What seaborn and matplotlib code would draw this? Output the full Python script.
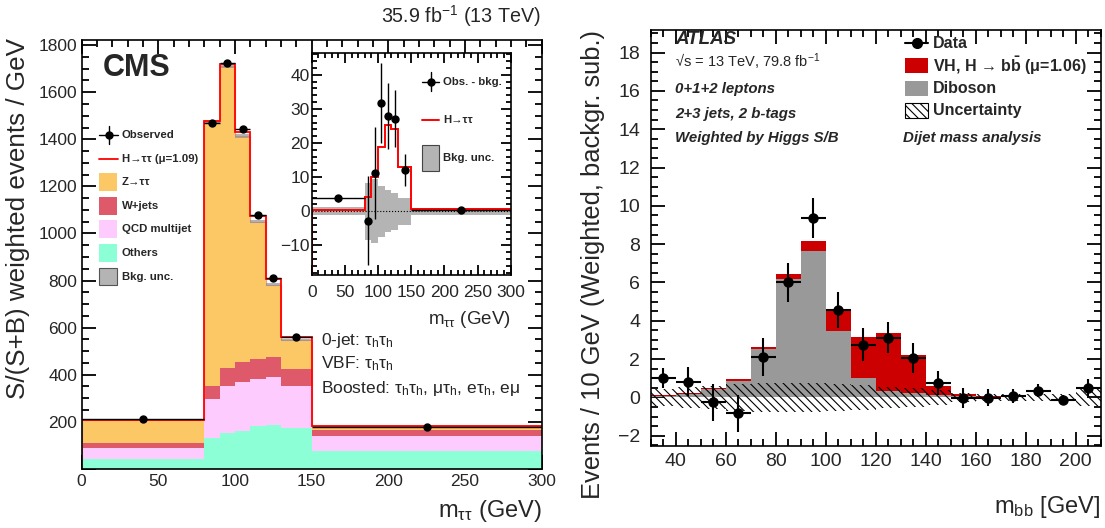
import numpy as np
import pandas as pd
import matplotlib
matplotlib.use("Agg")
import matplotlib.pyplot as plt
import seaborn as sns
from matplotlib.patches import Rectangle
from matplotlib.lines import Line2D
from matplotlib.ticker import MultipleLocator, FuncFormatter

# ---------------- CMS H->tautau (left panel) ----------------
cms_edges = [0, 80, 90, 100, 110, 120, 130, 150, 300]
cms_others = [40, 130, 151, 162, 182, 188, 173, 77]
cms_qcd = [50, 167, 201, 208, 201, 202, 178, 62]
cms_wjets = [18, 55, 75, 82, 83, 86, 72, 26]
cms_ztt = [98, 1121, 1285, 961, 584, 306, 126, 15]
cms_signal = [0.5, 4.3, 10.1, 18.7, 25.3, 24.2, 13.1, 0.7]
cms_bkg_unc = [1.2, 8.3, 9.3, 7.5, 6.2, 5.4, 3.9, 1.0]
cms_observed = [210, 1470, 1723, 1445, 1078, 809, 561, 179]
cms_obs_minus_bkg = [3.8, -2.8, 11.1, 31.8, 27.9, 27.1, 12.1, 0.3]
cms_obs_err = [1.0, 13.0, 13.5, 11.8, 9.7, 8.3, 4.8, 0.7]

# ---------------- ATLAS VH, H->bb (right panel) ----------------
atlas_edges = [30, 40, 50, 60, 70, 80, 90, 100, 110, 120, 130, 140, 150,
               160, 170, 180, 190, 200, 210]
atlas_diboson = [0.05, 0.2, 0.45, 0.87, 2.5, 6.18, 7.66, 3.48, 0.99, 0.34,
                 0.24, 0.12, 0.08, 0.04, 0.03, 0.02, 0.02, 0.02]
atlas_vh = [0.07, 0.04, 0.05, 0.07, 0.14, 0.26, 0.52, 1.11, 2.14, 3.03,
            1.97, 0.48, 0.08, 0.03, 0.02, 0.01, 0.01, 0.01]
atlas_data = [1.02, 0.82, -0.26, -0.84, 2.12, 6.0, 9.38, 4.56, 2.75, 3.11,
              2.05, 0.73, -0.05, -0.02, 0.07, 0.35, -0.14, 0.5]
atlas_data_err = [0.52, 0.77, 0.95, 0.98, 0.99, 1.03, 1.05, 0.94, 0.87, 0.81,
                  0.77, 0.63, 0.52, 0.44, 0.37, 0.34, 0.26, 0.45]
atlas_unc = [0.45, 0.55, 0.6, 0.7, 0.75, 0.75, 0.75, 0.72, 0.65, 0.55,
             0.5, 0.38, 0.25, 0.2, 0.18, 0.17, 0.15, 0.45]

sns.set_theme(style="ticks")
plt.rcParams.update({
    "font.family": ["Liberation Sans", "DejaVu Sans"],
    "mathtext.fontset": "custom",
    "mathtext.rm": "Liberation Sans",
    "mathtext.it": "Liberation Sans:italic",
    "mathtext.bf": "Liberation Sans:bold",
    "hatch.linewidth": 0.8,
    "axes.linewidth": 1.2,
    "axes.edgecolor": "black",
    "xtick.direction": "in", "ytick.direction": "in",
    "xtick.top": True, "ytick.right": True,
})

W, H = 1105, 528
fig = plt.figure(figsize=(W / 100, H / 100), dpi=100)


def box(x0, y0, x1, y1):
    return [x0 / W, 1 - y1 / H, (x1 - x0) / W, (y1 - y0) / H]


def ftext(x, y, s, **kw):
    return fig.text(x / W, 1 - y / H, s, **kw)


def fline(xs, ys, **kw):
    fig.add_artist(Line2D([x / W for x in xs], [1 - y / H for y in ys],
                          transform=fig.transFigure, **kw))


def fpatch(x, yc, w, h, **kw):
    fig.add_artist(Rectangle((x / W, 1 - (yc + h / 2) / H), w / W, h / H,
                             transform=fig.transFigure, **kw))


def root_ticks(ax, size, pad, major=10, minor=5):
    ax.tick_params(which="both", direction="in", top=True, right=True,
                   labelsize=size, pad=pad)
    ax.tick_params(which="major", length=major, width=1.3, color="black")
    ax.tick_params(which="minor", length=minor, width=1.3, color="black")


ax1 = fig.add_axes(box(81.5, 40, 541.7, 468.8))
ax_in = fig.add_axes(box(311.7, 53.3, 510.7, 275))
ax2 = fig.add_axes(box(650.7, 30, 1100.7, 446))

# ---- left: stacked backgrounds
edges = np.array(cms_edges, dtype=float)
centers = (edges[:-1] + edges[1:]) / 2
halfw = np.diff(edges) / 2
procs = {"Z→ττ": cms_ztt, "W+jets": cms_wjets,
         "QCD multijet": cms_qcd, "Others": cms_others}
cms_colors = {"Z→ττ": "#fcc865", "W+jets": "#de5a6a",
              "QCD multijet": "#fdcbfd", "Others": "#8cffd6"}
cms_df = pd.DataFrame([{"m": c, "w": v, "proc": name}
                       for name, vals in procs.items()
                       for c, v in zip(centers, vals)])
sns.histplot(data=cms_df, x="m", weights="w", hue="proc", hue_order=list(procs),
             bins=cms_edges, multiple="stack", element="step", palette=cms_colors,
             alpha=1, linewidth=0, legend=False, ax=ax1)
bkg = np.sum([cms_ztt, cms_wjets, cms_qcd, cms_others], axis=0)
unc = np.array(cms_bkg_unc)
ax1.stairs(bkg, edges, baseline=0, color="#f2a08c", lw=0.8)
ax1.bar(edges[:-1], 2 * unc, bottom=bkg - unc, width=np.diff(edges), align="edge",
        color="#8a8a8a", alpha=0.65, lw=0)
ax1.stairs(bkg + np.array(cms_signal), edges, baseline=None, color="#ff0000", lw=1.3)
ax1.errorbar(centers, cms_observed, xerr=halfw, yerr=cms_obs_err, fmt="o",
             color="black", ms=5, lw=1.0, capsize=0, zorder=5)
ax1.set_xlim(0, 300)
ax1.set_ylim(0, 1822)
ax1.xaxis.set_major_locator(MultipleLocator(50))
ax1.xaxis.set_minor_locator(MultipleLocator(10))
ax1.yaxis.set_major_locator(MultipleLocator(200))
ax1.yaxis.set_minor_locator(MultipleLocator(50))
ax1.yaxis.set_major_formatter(FuncFormatter(lambda v, p: "" if v == 0 else f"{v:g}"))
root_ticks(ax1, 12.5, 3)
ax1.tick_params(axis="x", pad=4)
ax1.set_xlabel("")
ax1.set_ylabel("")

# CMS legend (drawn row by row)
leg_font = {"fontsize": 8.2, "fontweight": "bold", "va": "center"}
rows = ["Observed", "H→ττ (μ=1.09)", "Z→ττ", "W+jets", "QCD multijet", "Others",
        "Bkg. unc."]
for i, lab in enumerate(rows):
    y = 135 + i * 23.6
    ftext(121.7, y, lab, **leg_font)
    if lab == "Observed":
        fline([99.3, 118.3], [y, y], color="black", lw=1.0)
        fline([108.8, 108.8], [y - 9, y + 9], color="black", lw=1.0)
        fline([108.8], [y], color="black", marker="o", ms=5, lw=0)
    elif lab.startswith("H"):
        fline([99.3, 118.3], [y, y], color="#ff0000", lw=1.3)
    elif lab == "Bkg. unc.":
        fpatch(99.3, y, 18, 17, facecolor="#b4b4b4", edgecolor="#555555", lw=0.8)
    else:
        fpatch(99.3, y, 18, 18, facecolor=cms_colors[lab], lw=0)

ftext(103, 68, "CMS", fontsize=22, fontweight="bold", va="center", ha="left")
ftext(541, 16, r"35.9 fb$^{-1}$ (13 TeV)", fontsize=14.2, ha="right", va="center")
ftext(320.7, 340, r"0-jet: τ$_\mathrm{h}$τ$_\mathrm{h}$", fontsize=12.5, va="center")
ftext(320.7, 364, r"VBF: τ$_\mathrm{h}$τ$_\mathrm{h}$", fontsize=12.5, va="center")
ftext(320.7, 388, r"Boosted: τ$_\mathrm{h}$τ$_\mathrm{h}$, μτ$_\mathrm{h}$, eτ$_\mathrm{h}$, eμ",
      fontsize=12.5, va="center")
ftext(541.7, 511, r"m$_{\mathrm{ττ}}$ (GeV)", fontsize=17, ha="right", va="center")
ftext(18, 38, "S/(S+B) weighted events / GeV", fontsize=18.7, rotation=90,
      ha="center", va="top")

# ---- inset: observed minus background
ax_in.set_facecolor("white")
ax_in.bar(edges[:-1], 2 * unc, bottom=-unc, width=np.diff(edges), align="edge",
          color="#b4b4b4", lw=0)
ax_in.axhline(0, color="black", ls=":", lw=0.8)
ymin_in, ymax_in = -18.7, 46.3
ax_in.stairs(cms_signal, edges, baseline=None, color="#ff0000", lw=1.4)
ax_in.plot([edges[0], edges[0]], [ymin_in, cms_signal[0]], color="#ff0000", lw=1.4)
in_xerr = np.where(np.diff(edges) > 20, halfw, 0)
ax_in.errorbar(centers, cms_obs_minus_bkg, xerr=in_xerr, yerr=cms_obs_err,
               fmt="o", color="black", ms=5, lw=1.0, capsize=0, zorder=5)
ax_in.set_xlim(0, 300)
ax_in.set_ylim(ymin_in, ymax_in)
ax_in.xaxis.set_major_locator(MultipleLocator(50))
ax_in.xaxis.set_minor_locator(MultipleLocator(10))
ax_in.yaxis.set_major_locator(MultipleLocator(10))
ax_in.yaxis.set_minor_locator(MultipleLocator(2))
root_ticks(ax_in, 12.5, 1.5, major=7, minor=3.5)
ax_in.tick_params(axis="x", pad=7)

for i, lab in enumerate(["Obs. - bkg.", "H→ττ", "Bkg. unc."]):
    y = 81.7 + i * 38.3
    ftext(443.3, y, lab, **leg_font)
    if i == 0:
        fline([421.7, 439.3], [y, y], color="black", lw=1.0)
        fline([430.5, 430.5], [y - 9.5, y + 9.5], color="black", lw=1.0)
        fline([430.5], [y], color="black", marker="o", ms=5, lw=0)
    elif i == 1:
        fline([421.7, 439.3], [y, y], color="#ff0000", lw=1.4)
    else:
        fpatch(421.7, y, 17.7, 26, facecolor="#b4b4b4", edgecolor="#444444", lw=0.8)
ftext(510.7, 320, r"m$_{\mathrm{ττ}}$ (GeV)", fontsize=13.5, ha="right", va="center")

# ---- right: ATLAS background-subtracted mbb
aedges = np.array(atlas_edges, dtype=float)
acenters = (aedges[:-1] + aedges[1:]) / 2
atlas_df = pd.DataFrame({"m": np.concatenate([acenters, acenters]),
                         "w": np.concatenate([atlas_vh, atlas_diboson]),
                         "proc": ["VH"] * len(acenters) + ["Diboson"] * len(acenters)})
atlas_colors = {"VH": "#cc0000", "Diboson": "#999999"}
sns.histplot(data=atlas_df, x="m", weights="w", hue="proc", hue_order=["VH", "Diboson"],
             bins=atlas_edges, multiple="stack", element="step", palette=atlas_colors,
             alpha=1, linewidth=0, legend=False, ax=ax2)
aunc = np.array(atlas_unc)
ax2.bar(aedges[:-1], 2 * aunc, bottom=-aunc, width=np.diff(aedges), align="edge",
        facecolor="none", edgecolor="black", hatch="\\\\\\\\", lw=0)
ax2.errorbar(acenters, atlas_data, xerr=np.diff(aedges) / 2, yerr=atlas_data_err,
             fmt="o", color="black", ms=6.5, lw=1.5, capsize=0, zorder=5)
ax2.set_xlim(30, 210)
ax2.set_ylim(-2.54, 19.18)
ax2.xaxis.set_major_locator(MultipleLocator(20))
ax2.xaxis.set_minor_locator(MultipleLocator(5))
ax2.yaxis.set_major_locator(MultipleLocator(2))
ax2.yaxis.set_minor_locator(MultipleLocator(0.5))
root_ticks(ax2, 14, 7.5)
ax2.tick_params(axis="x", pad=5)
ax2.set_xlabel("")
ax2.set_ylabel("")

a_rows = ["Data", r"VH, H → b$\mathbf{\bar{b}}$ (μ=1.06)", "Diboson", "Uncertainty"]
for i, lab in enumerate(a_rows):
    y = 43.3 + i * 22.5
    ftext(933.3, y, lab, fontsize=11.5, fontweight="bold", va="center")
    if i == 0:
        fline([905, 928], [y, y], color="black", lw=1.5)
        fline([916.5], [y], color="black", marker="o", ms=7, lw=0)
    elif i == 1:
        fpatch(905, y, 23, 15, facecolor="#cc0000", lw=0)
    elif i == 2:
        fpatch(905, y, 23, 15, facecolor="#999999", lw=0)
    else:
        fpatch(905, y, 23, 15, facecolor="white", edgecolor="black",
               hatch="\\\\\\\\", lw=0.8)

ftext(675, 40, "ATLAS", fontsize=13.5, fontweight="bold", fontstyle="italic", va="center")
ftext(675, 62, r"√s = 13 TeV, 79.8 fb$^{-1}$", fontsize=10.5, va="center")
ftext(675, 89, "0+1+2 leptons", fontsize=10.8, fontweight="bold", fontstyle="italic",
      va="center")
ftext(675, 114, "2+3 jets, 2 b-tags", fontsize=10.8, fontweight="bold",
      fontstyle="italic", va="center")
ftext(675, 138.3, "Weighted by Higgs S/B", fontsize=10.8, fontweight="bold",
      fontstyle="italic", va="center")
ftext(903, 138.3, "Dijet mass analysis", fontsize=10.8, fontweight="bold",
      fontstyle="italic", va="center")
ftext(1100, 507, r"m$_{\mathrm{bb}}$ [GeV]", fontsize=17, ha="right", va="center")
ftext(593, 30, "Events / 10 GeV (Weighted, backgr. sub.)", fontsize=18.4, rotation=90,
      ha="center", va="top")

fig.savefig("out.png", dpi=100)
